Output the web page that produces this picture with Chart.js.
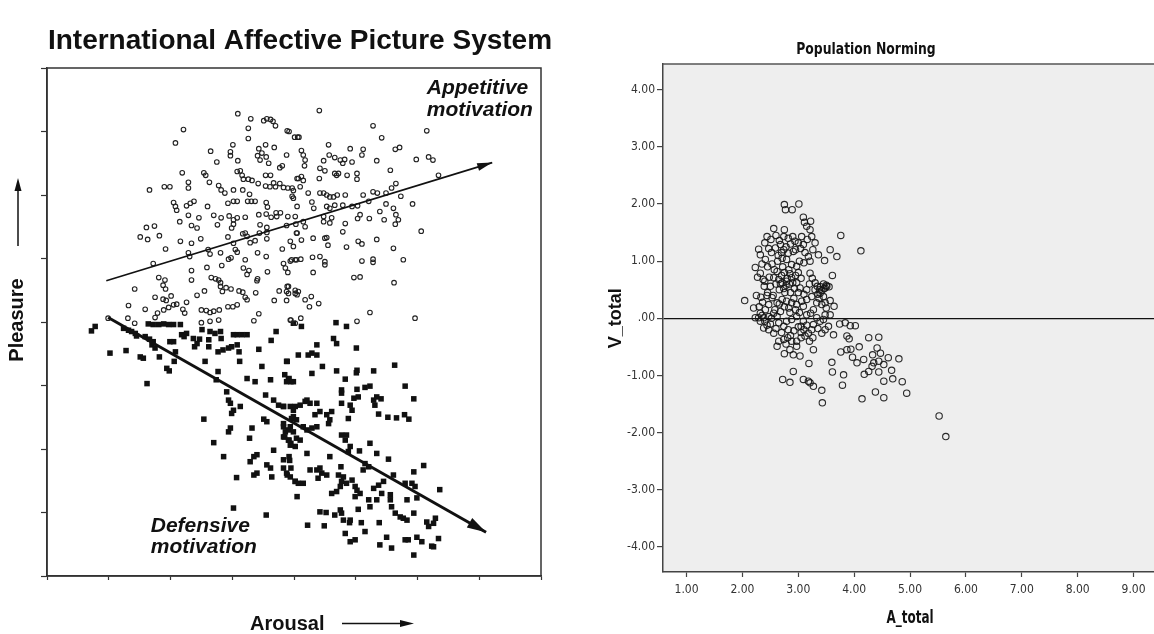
<!DOCTYPE html>
<html><head><meta charset="utf-8">
<script src="https://cdn.jsdelivr.net/npm/chart.js@4.4.0/dist/chart.umd.min.js"></script>
<style>
html,body{margin:0;padding:0;background:#fff;overflow:hidden;width:1154px;height:634px;position:relative;}
#c1{position:absolute;left:0;top:0;}
#c2{position:absolute;left:600px;top:0;}
</style></head><body>
<canvas id="c1" width="600" height="634"></canvas>
<canvas id="c2" width="580" height="634"></canvas>
<script>
const LEFT_FONT = '"Liberation Sans", Arial, Helvetica, sans-serif';
const COND_FONT = '"DejaVu Sans Condensed", "Liberation Sans Narrow", "Roboto Condensed", Roboto, sans-serif';

// ---------- Left chart: IAPS (pleasure 1-9 vs arousal 1-9) ----------
const appetitivePictures = [
[4.09,8.28],[4.30,8.20],[4.51,8.17],[4.56,8.20],[4.62,8.19],[4.66,8.16],[4.70,8.09],[3.21,8.03],[4.26,8.05],[4.89,8.01],[4.92,8.00],[5.01,7.91],[5.06,7.91],[3.08,7.82],[4.26,7.89],[4.01,7.79],[4.43,7.73],[4.54,7.79],[4.68,7.75],[3.65,7.69],[3.97,7.68],[3.97,7.62],[4.09,7.54],[3.75,7.52],[4.41,7.62],[4.48,7.66],[4.55,7.60],[4.45,7.55],[4.59,7.50],[4.88,7.63],[4.77,7.43],[4.81,7.46],[3.19,7.35],[3.54,7.35],[3.57,7.31],[3.29,7.20],[4.13,7.38],[4.08,7.37],[4.16,7.31],[3.29,7.11],[4.18,7.25],[4.26,7.25],[4.32,7.23],[4.42,7.18],[4.54,7.31],[4.62,7.31],[4.67,7.19],[4.77,7.18],[4.83,7.12],[4.90,7.11],[4.97,7.11],[5.05,7.26],[2.90,7.13],[2.99,7.13],[2.66,7.08],[3.63,7.20],[3.78,7.15],[3.82,7.08],[3.88,7.03],[4.02,7.08],[4.17,7.08],[4.54,7.14],[4.61,7.13],[4.70,7.13],[4.28,7.01],[4.25,6.90],[4.31,6.90],[4.37,6.90],[3.93,6.87],[4.02,6.90],[4.08,6.90],[4.55,6.88],[4.57,6.81],[4.71,6.72],[4.78,6.72],[4.97,6.98],[4.99,6.95],[5.05,6.82],[3.05,6.88],[3.08,6.82],[3.10,6.76],[3.26,6.83],[3.32,6.87],[3.38,6.90],[3.60,6.82],[3.15,6.58],[3.29,6.68],[3.46,6.64],[3.70,6.68],[3.82,6.64],[3.95,6.67],[4.02,6.61],[4.08,6.64],[4.21,6.65],[4.43,6.69],[4.55,6.70],[4.63,6.65],[4.72,6.66],[4.90,6.66],[5.02,6.66],[3.34,6.52],[3.43,6.48],[3.76,6.53],[4.02,6.54],[3.99,6.48],[4.45,6.53],[4.56,6.49],[4.88,6.52],[5.03,6.54],[2.61,6.49],[2.74,6.51],[2.51,6.34],[2.63,6.30],[2.82,6.36],[3.16,6.27],[3.34,6.24],[3.49,6.31],[3.61,6.14],[3.93,6.34],[4.02,6.24],[4.05,6.14],[4.17,6.39],[4.21,6.40],[4.24,6.35],[4.29,6.25],[4.37,6.28],[4.44,6.40],[4.56,6.41],[4.56,6.31],[4.81,6.15],[4.94,6.27],[4.99,6.19],[5.05,6.40],[2.92,6.15],[2.72,5.92],[3.29,6.09],[3.31,6.03],[3.64,6.07],[3.81,6.09],[3.94,5.99],[3.98,6.01],[4.08,6.10],[4.21,5.98],[4.41,6.09],[4.55,6.03],[4.83,5.92],[4.86,5.85],[4.90,5.78],[4.94,5.96],[5.02,5.98],[3.34,5.81],[3.59,5.86],[3.83,5.89],[4.18,5.85],[4.27,5.81],[4.24,5.75],[4.41,5.68],[4.57,5.79],[2.81,5.70],[2.88,5.58],[2.92,5.52],[2.91,5.66],[3.34,5.66],[3.66,5.70],[3.73,5.68],[3.78,5.66],[3.81,5.62],[3.81,5.56],[3.84,5.48],[3.90,5.54],[3.98,5.52],[4.11,5.49],[4.17,5.47],[4.21,5.39],[4.24,5.35],[4.38,5.46],[4.40,5.65],[4.76,5.49],[4.89,5.56],[4.91,5.45],[5.05,5.43],[2.42,5.52],[2.75,5.39],[2.88,5.36],[2.93,5.34],[3.01,5.41],[3.10,5.28],[2.97,5.23],[3.05,5.27],[3.26,5.31],[3.43,5.42],[3.55,5.49],[3.93,5.24],[4.01,5.24],[4.08,5.27],[4.35,5.02],[4.43,5.13],[4.68,5.34],[4.88,5.34],[5.02,5.50],[2.32,5.26],[2.59,5.20],[2.75,5.07],[2.79,5.14],[2.89,5.19],[3.20,5.20],[3.23,5.14],[3.50,5.19],[3.58,5.18],[3.64,5.15],[3.70,5.17],[3.79,5.19],[3.50,4.99],[3.64,5.01],[3.78,5.03],[2.31,5.06],[2.42,4.98],[1.99,5.06],[4.95,5.03],[5.02,4.98],
[5.41,8.33],[6.28,8.09],[7.15,8.01],[6.42,7.90],[5.08,7.91],[5.12,7.70],[5.15,7.63],[5.18,7.55],[5.17,7.46],[5.56,7.79],[5.91,7.73],[6.12,7.72],[6.10,7.63],[6.34,7.54],[6.64,7.72],[6.71,7.75],[6.98,7.56],[7.18,7.60],[7.25,7.55],[7.34,7.31],[5.57,7.63],[5.66,7.59],[5.75,7.55],[5.82,7.56],[5.79,7.50],[5.94,7.52],[5.48,7.54],[5.42,7.42],[5.50,7.38],[5.41,7.26],[5.66,7.34],[5.69,7.31],[5.72,7.34],[5.86,7.31],[6.02,7.34],[6.02,7.25],[6.56,7.39],[5.07,7.26],[5.12,7.29],[5.15,7.23],[5.10,7.13],[4.99,7.07],[5.23,7.03],[5.42,7.03],[5.48,7.03],[5.53,7.00],[5.58,6.97],[5.64,6.97],[5.70,7.00],[5.83,7.00],[6.12,7.00],[6.28,7.05],[6.35,7.03],[6.49,7.03],[6.58,7.11],[6.65,7.18],[6.73,6.98],[6.92,6.86],[5.29,6.89],[5.32,6.79],[5.53,6.82],[5.58,6.79],[5.66,6.84],[5.79,6.84],[5.94,6.82],[6.03,6.83],[6.21,6.90],[6.49,6.86],[6.61,6.79],[6.65,6.69],[6.69,6.61],[6.64,6.54],[5.15,6.58],[5.18,6.50],[5.48,6.66],[5.48,6.58],[5.61,6.64],[5.58,6.56],[5.83,6.55],[5.79,6.42],[6.07,6.69],[6.03,6.63],[6.22,6.63],[6.39,6.74],[6.46,6.61],[7.06,6.43],[5.04,6.40],[5.12,6.29],[5.31,6.32],[5.50,6.32],[5.55,6.21],[5.53,6.33],[5.85,6.18],[6.04,6.27],[6.10,6.23],[6.34,6.30],[6.61,6.16],[4.96,5.98],[5.04,5.98],[5.11,5.99],[5.30,6.02],[5.42,6.03],[5.50,5.95],[5.50,5.90],[6.10,5.96],[6.28,5.99],[6.28,5.94],[6.77,5.98],[5.31,5.78],[5.97,5.70],[6.07,5.71],[6.62,5.62],[4.91,5.56],[4.88,5.48],[5.02,5.45],[5.07,5.48],[5.18,5.35],[5.28,5.40],[5.25,5.24],[5.40,5.29],[6.23,5.15],[6.96,5.06],[4.94,5.03],[5.11,5.06],[6.02,5.01]
];
const defensivePictures = [
[1.72,4.86],[1.78,4.93],[2.02,4.51],[2.28,4.55],[2.24,4.90],[2.32,4.87],[2.37,4.85],[2.43,4.82],[2.45,4.78],[2.51,4.45],[2.56,4.43],[2.64,4.97],[2.72,4.96],[2.81,4.96],[2.89,4.97],[2.97,4.96],[3.05,4.96],[3.16,4.96],[2.59,4.77],[2.66,4.73],[2.72,4.69],[2.70,4.64],[2.75,4.59],[2.62,4.03],[2.82,4.45],[2.94,4.27],[2.98,4.23],[3.05,4.69],[2.99,4.69],[3.08,4.53],[3.06,4.38],[3.18,4.80],[3.22,4.77],[3.26,4.82],[3.37,4.74],[3.43,4.66],[3.39,4.61],[3.47,4.73],[3.51,4.88],[3.56,4.38],[3.62,4.72],[3.62,4.61],[3.64,4.85],[3.72,4.82],[3.77,4.53],[3.85,4.56],[3.94,4.59],[3.99,4.61],[4.08,4.64],[4.11,4.53],[3.82,4.74],[3.81,4.85],[4.02,4.80],[4.08,4.80],[4.16,4.80],[4.24,4.80],[4.12,4.38],[3.77,4.22],[3.74,4.09],[3.91,3.90],[3.94,3.77],[3.97,3.72],[4.02,3.61],[3.99,3.56],[4.13,3.67],[4.24,4.11],[4.37,4.06],[4.43,4.57],[4.48,4.30],[4.54,3.85],[4.62,4.09],[4.63,4.71],[4.71,4.85],[4.89,4.38],[4.92,4.11],[4.95,4.06],[3.54,3.47],[3.70,3.10],[3.94,3.27],[3.97,3.33],[3.86,2.88],[4.07,2.55],[4.29,2.80],[4.35,2.88],[4.40,2.91],[4.28,3.17],[4.32,3.33],[4.35,2.59],[4.40,2.62],[4.51,3.47],[4.56,3.43],[4.56,2.75],[4.62,2.70],[4.64,2.56],[4.67,2.98],[4.83,3.19],[4.86,3.27],[4.92,3.14],[4.95,3.09],[4.83,2.83],[4.92,2.88],[4.95,2.70],[4.89,2.59],[5.02,2.49],[5.05,2.25],[4.67,3.77],[4.75,3.69],[4.83,3.67],[4.94,3.67],[4.83,3.40],[4.94,3.35],[4.99,3.61],[4.99,3.51],[4.02,2.07],[4.55,1.96],
[4.99,4.98],[5.12,4.93],[5.68,4.99],[5.85,4.93],[5.64,4.74],[5.69,4.66],[6.01,4.59],[5.37,4.64],[5.29,4.51],[5.23,4.48],[5.37,4.48],[5.07,4.48],[4.88,4.38],[5.46,4.30],[5.29,4.19],[5.69,4.23],[5.83,4.10],[6.02,4.24],[6.01,4.20],[6.29,4.23],[6.63,4.32],[6.80,3.99],[6.94,3.79],[4.85,4.17],[4.91,4.09],[4.88,4.06],[4.99,4.06],[5.77,3.93],[5.77,3.88],[6.02,3.94],[6.15,3.97],[6.23,3.99],[5.97,3.80],[6.04,3.82],[5.91,3.69],[5.94,3.61],[5.88,3.48],[5.77,3.72],[6.29,3.77],[6.34,3.82],[6.41,3.79],[6.31,3.69],[6.37,3.55],[6.52,3.50],[6.66,3.49],[6.79,3.54],[6.86,3.47],[4.83,3.67],[5.02,3.67],[5.10,3.69],[5.18,3.75],[5.21,3.77],[5.26,3.72],[5.37,3.72],[5.34,3.54],[5.42,3.59],[5.53,3.54],[5.61,3.59],[5.58,3.46],[5.56,3.40],[4.96,3.48],[5.04,3.46],[4.83,3.35],[4.91,3.30],[4.99,3.27],[5.15,3.35],[5.21,3.30],[5.29,3.33],[5.37,3.35],[5.04,3.17],[5.02,3.04],[5.10,3.14],[4.85,3.19],[4.91,3.14],[4.94,3.06],[5.21,2.93],[4.93,2.82],[5.58,2.88],[5.77,3.22],[5.85,3.22],[5.83,3.14],[5.91,3.04],[5.88,2.96],[5.76,2.72],[5.72,2.59],[6.06,2.97],[6.23,3.09],[6.34,2.93],[6.15,2.77],[6.21,2.72],[6.12,2.67],[6.53,2.84],[6.61,2.59],[4.83,2.70],[4.88,2.62],[4.94,2.56],[5.02,2.49],[5.07,2.46],[5.15,2.46],[5.26,2.67],[5.37,2.67],[5.42,2.70],[5.45,2.62],[5.39,2.54],[5.53,2.59],[5.61,2.30],[5.69,2.33],[5.75,2.41],[5.77,2.49],[5.80,2.56],[5.85,2.46],[5.94,2.51],[5.99,2.41],[6.02,2.35],[5.99,2.25],[6.07,2.30],[6.29,2.38],[6.37,2.43],[6.45,2.49],[6.42,2.30],[6.34,2.20],[6.23,2.09],[6.21,2.20],[6.56,2.20],[6.58,2.09],[6.56,2.28],[6.64,1.99],[6.80,2.46],[6.91,2.46],[6.96,2.41],[6.94,2.64],[7.10,2.74],[6.83,2.20],[6.99,2.23],[7.36,2.36],[6.72,1.93],[6.77,1.91],[6.83,1.88],[6.94,1.99],[7.15,1.85],[7.18,1.78],[7.26,1.83],[7.29,1.91],[6.04,2.05],[5.75,2.04],[5.77,1.99],[5.80,1.88],[5.66,1.96],[5.42,2.01],[5.52,2.00],[5.22,1.80],[5.49,1.79],[5.91,1.88],[5.90,1.84],[6.09,1.84],[6.15,1.70],[5.83,1.67],[5.91,1.54],[5.99,1.57],[6.38,1.84],[6.50,1.61],[6.39,1.49],[6.58,1.44],[6.80,1.57],[6.85,1.57],[6.94,1.33],[6.99,1.61],[7.07,1.54],[7.23,1.47],[7.26,1.46],[7.34,1.59]
];
const appetitiveTrend = [[1.96,5.65],[8.21,7.51]];
const defensiveTrend = [[1.99,5.07],[8.11,1.69]];
const iapsAxisTicks = [1,2,3,4,5,6,7,8,9];

// ---------- Right chart: Population Norming (V_total vs A_total) ----------
const normingPoints = [
[2.75,1.99],[2.77,1.90],[2.89,1.90],[3.01,2.00],[3.09,1.77],[3.11,1.68],[3.22,1.70],[3.21,1.55],[3.15,1.61],[3.24,1.43],[3.30,1.32],[3.26,1.20],[3.16,1.38],[3.06,1.43],[3.00,1.32],[2.94,1.35],[2.90,1.43],[2.82,1.40],[2.75,1.55],[2.74,1.43],[2.56,1.57],[2.44,1.43],[2.40,1.32],[2.29,1.21],[2.32,1.11],[2.51,1.38],[2.59,1.23],[2.68,1.29],[2.74,1.20],[2.82,1.14],[2.91,1.17],[3.09,1.29],[3.18,1.08],[3.21,1.00],[3.10,0.97],[3.02,1.00],[2.97,0.91],[2.88,0.94],[2.79,1.03],[2.71,1.05],[2.63,1.00],[2.57,0.85],[2.41,1.03],[2.23,0.89],[2.27,0.72],[2.32,0.79],[2.37,0.68],[2.39,0.56],[2.33,0.37],[2.44,0.40],[2.50,0.56],[2.56,0.71],[2.65,0.68],[2.71,0.62],[2.79,0.65],[2.88,0.71],[2.97,0.62],[3.03,0.53],[3.15,0.50],[3.21,0.79],[3.36,1.11],[3.39,0.44],[3.30,0.50],[3.24,0.38],[3.15,0.33],[3.09,0.21],[2.97,0.24],[2.88,0.27],[2.79,0.30],[2.71,0.33],[2.62,0.27],[2.53,0.36],[2.47,0.24],[2.41,0.15],[2.32,0.09],[2.23,0.01],[2.29,0.01],[2.38,0.01],[2.47,0.03],[2.56,0.09],[2.62,0.03],[2.65,-0.08],[2.74,-0.14],[2.79,-0.05],[2.88,-0.02],[2.97,0.03],[3.05,-0.14],[3.09,-0.05],[3.15,0.06],[3.22,0.09],[3.27,0.15],[3.33,0.27],[3.42,0.24],[3.48,0.27],[3.48,0.06],[3.39,-0.05],[3.33,0.01],[3.27,-0.11],[3.24,-0.20],[3.18,-0.26],[3.12,-0.31],[3.05,-0.34],[2.97,-0.40],[2.88,-0.40],[2.81,-0.34],[2.74,-0.37],[2.65,-0.40],[2.56,-0.26],[2.47,-0.20],[2.38,-0.17],[2.32,-0.05],[2.20,0.18],[2.04,0.31],[2.62,-0.49],[2.75,-0.62],[2.85,-0.55],[2.91,-0.64],[2.97,-0.49],[3.03,-0.66],[3.19,-0.79],[3.27,-0.55],[3.26,-0.34],[3.42,-0.26],[3.27,-1.19],[3.21,-1.13],[3.18,-1.10],[3.09,-1.07],[2.85,-1.12],[2.72,-1.07],[2.91,-0.93],
[2.70,0.75],[2.75,0.80],[2.80,0.70],[2.85,0.78],[2.90,0.62],[2.68,0.60],[2.78,0.58],[2.95,0.75],[2.83,0.85],[2.72,0.90],[2.62,0.82],[2.66,0.50],[2.76,0.45],[2.86,0.45],[3.00,0.80],[3.05,0.70],[3.40,0.55],[3.45,0.60],[3.50,0.58],[3.38,0.50],[3.35,0.42],[3.55,0.55],[2.58,0.15],[2.68,0.12],[2.75,0.20],[2.85,0.10],[2.95,0.15],[3.05,-0.25],[3.10,-0.20],[2.50,-0.10],[2.40,-0.05],[2.35,0.05],[2.45,0.45],[2.55,0.40],
[2.60,1.45],[2.66,1.36],[2.70,1.15],[2.78,1.25],[2.86,1.30],[2.95,1.20],[3.04,1.22],[3.12,1.15],[2.64,1.10],[2.52,1.15],[2.47,1.22],[2.35,0.95],[2.45,0.90],[2.53,0.95],[2.60,0.60],[2.74,0.52],[2.84,0.60],[2.93,0.52],[3.00,0.45],[3.10,0.42],[3.20,0.60],[3.25,0.70],[3.30,0.62],[3.34,0.56],[3.42,0.48],[3.46,0.52],[3.37,0.35],[3.45,0.38],[2.44,-0.12],[2.52,0.00],[2.60,-0.18],[2.70,-0.25],[2.82,-0.20],[2.92,-0.22],[3.00,-0.15],[3.15,-0.12],[3.20,-0.40],[3.35,-0.18],[2.78,-0.45],[2.86,-0.30],[2.30,0.20],[2.36,0.28],[2.25,0.40],[2.40,0.65],[2.48,0.72],[2.66,0.25],[2.83,0.18],[3.02,0.10],[2.92,0.35],[3.06,0.30],
[3.76,1.45],[3.57,1.20],[3.69,1.08],[3.47,1.01],[4.12,1.18],[3.61,0.75],[3.51,0.56],[3.48,0.53],[3.57,0.31],[3.64,0.21],[3.50,0.18],[3.57,0.06],[3.45,-0.02],[3.74,-0.10],[3.84,-0.08],[3.93,-0.13],[4.02,-0.13],[3.87,-0.31],[3.91,-0.36],[4.26,-0.34],[4.44,-0.33],[4.09,-0.50],[3.76,-0.59],[3.87,-0.55],[3.94,-0.54],[3.97,-0.68],[4.05,-0.78],[4.17,-0.72],[4.18,-0.98],[4.26,-0.93],[4.33,-0.64],[4.41,-0.52],[4.47,-0.61],[4.35,-0.78],[4.32,-0.84],[4.44,-0.75],[4.53,-0.81],[4.61,-0.69],[4.80,-0.71],[4.44,-0.94],[4.53,-1.10],[4.67,-0.91],[4.69,-1.06],[4.86,-1.11],[4.94,-1.31],[3.60,-0.77],[3.61,-0.94],[3.81,-0.99],[3.79,-1.17],[4.14,-1.41],[4.38,-1.29],[4.53,-1.39],[3.42,-1.26],[3.43,-1.48],[5.52,-1.71],[5.64,-2.07],[3.48,-0.20],[3.63,-0.29],[3.54,-0.14]
];
const normXTicks = [1,2,3,4,5,6,7,8,9];
const normXTickLabels = ['1.00','2.00','3.00','4.00','5.00','6.00','7.00','8.00','9.00'];
const normYTicks = [-4,-3,-2,-1,0,1,2,3,4];
const normYTickLabels = ['-4.00','-3.00','-2.00','-1.00','.00','1.00','2.00','3.00','4.00'];

const toXY = arr => arr.map(p => ({x: p[0], y: p[1]}));

function drawHead(ctx, x0, y0, x1, y1, len, hw) {
  const a = Math.atan2(y1 - y0, x1 - x0);
  const bx = x1 - len * Math.cos(a), by = y1 - len * Math.sin(a);
  ctx.beginPath();
  ctx.moveTo(x1, y1);
  ctx.lineTo(bx - hw * Math.sin(a), by + hw * Math.cos(a));
  ctx.lineTo(bx + hw * Math.sin(a), by - hw * Math.cos(a));
  ctx.closePath();
  ctx.fill();
}

function squeezedText(ctx, text, x, y, sx) {
  ctx.save();
  ctx.translate(x, y);
  ctx.scale(sx, 1);
  ctx.fillText(text, 0, 0);
  ctx.restore();
}

const leftDecor = {
  id: 'leftDecor',
  afterDatasetsDraw(chart) {
    const ctx = chart.ctx;
    ctx.save();
    ctx.fillStyle = '#111';
    [[0, 15, 4], [1, 19, 5.5]].forEach(([di, len, hw]) => {
      const pts = chart.getDatasetMeta(di).data;
      const p0 = pts[0], p1 = pts[pts.length - 1];
      drawHead(ctx, p0.x, p0.y, p1.x, p1.y, len, hw);
    });
    ctx.restore();
  },
  afterDraw(chart) {
    const ctx = chart.ctx, a = chart.chartArea, sx = chart.scales.x, sy = chart.scales.y;
    ctx.save();
    ctx.strokeStyle = '#333';
    ctx.lineWidth = 1.5;
    ctx.strokeRect(a.left, a.top, a.right - a.left, a.bottom - a.top);
    ctx.fillStyle = '#111';
    ctx.textBaseline = 'alphabetic';
    ctx.textAlign = 'center';
    ctx.font = 'bold 28px ' + LEFT_FONT;
    ctx.fillText('International Affective Picture System', 300, 49);
    ctx.textAlign = 'left';
    ctx.font = 'italic bold 21px ' + LEFT_FONT;
    ctx.fillText('Appetitive', sx.getPixelForValue(7.15), sy.getPixelForValue(8.59));
    ctx.fillText('motivation', sx.getPixelForValue(7.15), sy.getPixelForValue(8.24));
    ctx.fillText('Defensive', sx.getPixelForValue(2.68), sy.getPixelForValue(1.69));
    ctx.fillText('motivation', sx.getPixelForValue(2.68), sy.getPixelForValue(1.36));
    ctx.font = 'bold 20px ' + LEFT_FONT;
    ctx.fillText('Arousal', 250, 630);
    ctx.save();
    ctx.translate(23, 320);
    ctx.rotate(-Math.PI / 2);
    ctx.textAlign = 'center';
    ctx.fillText('Pleasure', 0, 0);
    ctx.restore();
    ctx.strokeStyle = '#111';
    ctx.lineWidth = 1.5;
    ctx.beginPath(); ctx.moveTo(18, 246); ctx.lineTo(18, 186); ctx.stroke();
    drawHead(ctx, 18, 246, 18, 178, 13, 3.5);
    ctx.beginPath(); ctx.moveTo(342, 623.5); ctx.lineTo(405, 623.5); ctx.stroke();
    drawHead(ctx, 342, 623.5, 414, 623.5, 14, 3.5);
    ctx.restore();
  }
};

new Chart(document.getElementById('c1'), {
  type: 'scatter',
  data: {
    datasets: [
      { data: toXY(appetitiveTrend), showLine: true, borderColor: '#111', borderWidth: 1.6, pointRadius: 0, fill: false },
      { data: toXY(defensiveTrend), showLine: true, borderColor: '#111', borderWidth: 3, pointRadius: 0, fill: false },
      { data: toXY(appetitivePictures), pointStyle: 'circle', pointRadius: 2.3, borderWidth: 1.1, borderColor: '#222', backgroundColor: 'rgba(255,255,255,0)' },
      { data: toXY(defensivePictures), pointStyle: 'rect', pointRadius: 3.9, borderWidth: 0, backgroundColor: '#111', borderColor: '#111' }
    ]
  },
  options: {
    responsive: false, animation: false, devicePixelRatio: 1,
    layout: { padding: { left: 37, top: 68, right: 59, bottom: 48 } },
    plugins: { legend: { display: false }, tooltip: { enabled: false } },
    scales: {
      x: {
        type: 'linear', min: 1, max: 9,
        afterBuildTicks: s => { s.ticks = iapsAxisTicks.map(v => ({ value: v })); },
        ticks: { display: false },
        grid: { drawOnChartArea: false, tickLength: 4, tickColor: '#333', tickWidth: 1.2 },
        border: { color: '#333', width: 1.5 },
        afterFit: s => { s.height = 10; }
      },
      y: {
        type: 'linear', min: 1, max: 9,
        afterBuildTicks: s => { s.ticks = iapsAxisTicks.map(v => ({ value: v })); },
        ticks: { display: false },
        grid: { drawOnChartArea: false, tickLength: 6, tickColor: '#333', tickWidth: 1.2 },
        border: { color: '#333', width: 1.5 },
        afterFit: s => { s.width = 10; }
      }
    }
  },
  plugins: [leftDecor]
});

const rightDecor = {
  id: 'rightDecor',
  beforeDraw(chart) {
    const ctx = chart.ctx, a = chart.chartArea;
    ctx.save();
    ctx.fillStyle = '#eeeeee';
    ctx.fillRect(a.left, a.top, a.right - a.left, a.bottom - a.top);
    ctx.restore();
  },
  afterDraw(chart) {
    const ctx = chart.ctx, a = chart.chartArea;
    ctx.save();
    ctx.strokeStyle = '#555';
    ctx.lineWidth = 1.5;
    ctx.beginPath(); ctx.moveTo(a.left, a.top); ctx.lineTo(a.right, a.top); ctx.stroke();
    ctx.fillStyle = '#111';
    ctx.textAlign = 'center';
    ctx.textBaseline = 'middle';
    ctx.font = 'bold 16px ' + COND_FONT;
    squeezedText(ctx, 'Population Norming', 266, 50, 0.86);
    ctx.font = 'bold 18px ' + COND_FONT;
    squeezedText(ctx, 'A_total', (a.left + a.right) / 2, 618, 0.74);
    ctx.save();
    ctx.translate(16, chart.scales.y.getPixelForValue(0));
    ctx.rotate(-Math.PI / 2);
    ctx.font = 'bold 18px ' + LEFT_FONT;
    ctx.fillText('V_total', 0, 0);
    ctx.restore();
    ctx.restore();
  }
};

new Chart(document.getElementById('c2'), {
  type: 'scatter',
  data: {
    datasets: [
      { data: toXY(normingPoints), pointStyle: 'circle', pointRadius: 3.2, borderWidth: 1.1, borderColor: 'rgba(20,20,20,0.9)', backgroundColor: 'rgba(0,0,0,0)' }
    ]
  },
  options: {
    responsive: false, animation: false, devicePixelRatio: 1,
    layout: { padding: { left: 23, top: 64, right: 23, bottom: 32 } },
    plugins: { legend: { display: false }, tooltip: { enabled: false } },
    scales: {
      x: {
        type: 'linear', min: 0.578, max: 9.42,
        afterBuildTicks: s => { s.ticks = normXTicks.map(v => ({ value: v })); },
        ticks: { callback: v => normXTickLabels[normXTicks.indexOf(v)], font: { family: COND_FONT, size: 12 }, color: '#333', padding: 6, maxRotation: 0, autoSkip: false },
        grid: { drawOnChartArea: false, tickLength: 5, tickColor: '#444', tickWidth: 1.2 },
        border: { color: '#444', width: 1.5 },
        afterFit: s => { s.height = 30; }
      },
      y: {
        type: 'linear', min: -4.44, max: 4.45,
        afterBuildTicks: s => { s.ticks = normYTicks.map(v => ({ value: v })); },
        ticks: { callback: v => normYTickLabels[normYTicks.indexOf(v)], font: { family: COND_FONT, size: 12 }, color: '#333', padding: 2, autoSkip: false },
        grid: { drawOnChartArea: true, color: c => (c.tick && c.tick.value === 0) ? '#111' : 'rgba(0,0,0,0)', lineWidth: 1.2, tickLength: 6, tickColor: '#444', tickWidth: 1.2 },
        border: { color: '#444', width: 1.5 },
        afterFit: s => { s.width = 40; }
      }
    }
  },
  plugins: [rightDecor]
});
</script>
</body></html>
